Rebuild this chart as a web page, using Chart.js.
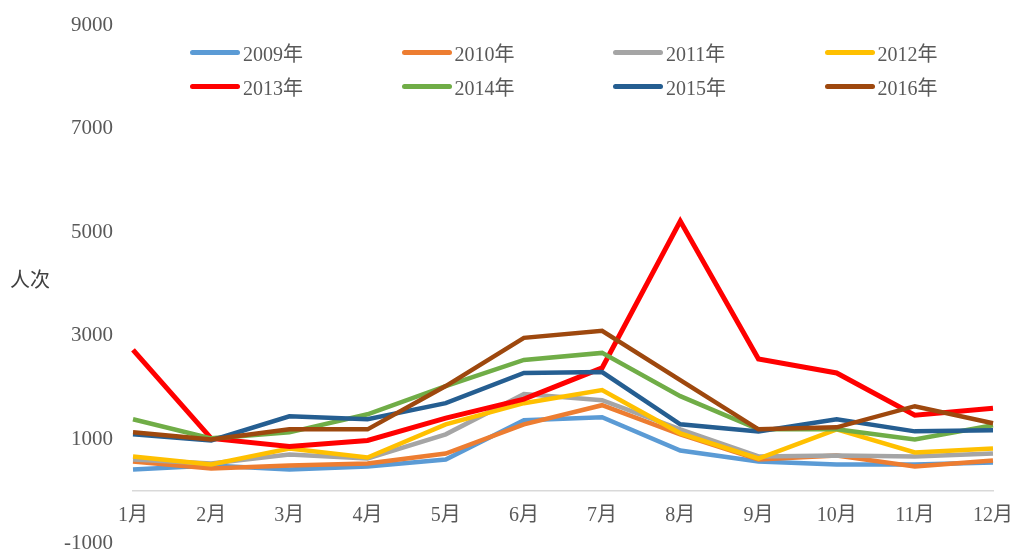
<!DOCTYPE html>
<html>
<head>
<meta charset="utf-8">
<title>人次</title>
<script src="https://cdn.jsdelivr.net/npm/chart.js@4.4.0/dist/chart.umd.min.js"></script>
<style>
    body { margin: 0; background: #fff; }
    #wrap { position: relative; width: 1018px; height: 550px; }
    #legend {
        position: absolute; left: 190px; top: 35px;
        display: grid; grid-template-columns: repeat(4, 211.5px); grid-auto-rows: 34px;
        font: 20px "Liberation Serif", "Noto Sans CJK SC", serif; color: #595959;
    }
    .item { display: flex; align-items: center; white-space: nowrap; }
    .swatch { width: 50px; height: 5px; border-radius: 3px; margin-right: 3px; }
    #unit {
        position: absolute; left: 10px; top: 264px;
        font: 20px "Liberation Serif", "Noto Sans CJK SC", serif; color: #404040;
    }
</style>
</head>
<body>
<div id="wrap">
    <canvas id="chart1" width="1018" height="550"></canvas>
    <div id="legend"></div>
    <div id="unit">人次</div>
</div>
<script>
// categories and tick labels
var months = ['1月', '2月', '3月', '4月', '5月', '6月', '7月', '8月', '9月', '10月', '11月', '12月'];
var yTicks = [-1000, 1000, 3000, 5000, 7000, 9000];

// visits per month, one array per year
var v2009 = [417, 495, 417, 476, 612, 1369, 1427, 786, 573, 515, 515, 553];
var v2010 = [573, 437, 495, 534, 728, 1291, 1660, 1097, 612, 690, 476, 592];
var v2011 = [612, 534, 709, 631, 1097, 1874, 1757, 1194, 670, 690, 670, 728];
var v2012 = [670, 515, 825, 650, 1291, 1699, 1951, 1117, 631, 1194, 748, 825];
var v2013 = [2730, 1020, 864, 980, 1410, 1777, 2380, 5214, 2553, 2282, 1466, 1602];
var v2014 = [1388, 1020, 1136, 1485, 2030, 2534, 2670, 1835, 1194, 1194, 1000, 1272];
var v2015 = [1097, 980, 1446, 1388, 1699, 2282, 2301, 1291, 1155, 1388, 1155, 1175];
var v2016 = [1136, 1000, 1194, 1194, 2030, 2961, 3097, 2146, 1194, 1233, 1641, 1311];

var years = ['2009年', '2010年', '2011年', '2012年', '2013年', '2014年', '2015年', '2016年'];
var colors = ['#5B9BD5', '#ED7D31', '#A5A5A5', '#FFC000', '#FF0000', '#70AD47', '#255E91', '#9E480E'];
var series = [v2009, v2010, v2011, v2012, v2013, v2014, v2015, v2016];

var serif = '"Liberation Serif", "Noto Sans CJK SC", serif';

var datasets = series.map(function (vals, i) {
    return {
        label: years[i],
        data: vals,
        borderColor: colors[i],
        backgroundColor: colors[i],
        borderWidth: i === 4 ? 5 : 4.5,
        pointRadius: 0,
        tension: 0,
        order: series.length - i // later years drawn on top, like Excel
    };
});

var ctx = document.getElementById('chart1').getContext('2d');
var chart1 = new Chart(ctx, {
    type: 'line',
    data: { labels: months, datasets: datasets },
    options: {
        responsive: false,
        animation: false,
        layout: { padding: { top: 25, right: 25, bottom: 7, left: 0 } },
        plugins: { legend: { display: false }, tooltip: { enabled: false } },
        scales: {
            x: {
                position: { y: 0 },
                offset: false,
                grid: { display: false, drawTicks: false },
                border: { display: true, color: '#D9D9D9', width: 1.5 },
                ticks: { color: '#595959', padding: 13, maxRotation: 0, font: { family: serif, size: 20 } },
                afterFit: function (scale) {
                    scale.height = 0;
                    scale.paddingLeft = 0;
                    scale.paddingRight = 0;
                }
            },
            y: {
                min: yTicks[0],
                max: yTicks[yTicks.length - 1],
                afterBuildTicks: function (scale) {
                    scale.ticks = yTicks.map(function (v) { return { value: v }; });
                },
                grid: { display: false, drawTicks: false },
                border: { display: false },
                ticks: {
                    color: '#595959', padding: 20, font: { family: serif, size: 21 },
                    callback: function (value) { return String(value); }
                },
                afterFit: function (scale) {
                    scale.width = 133;
                    scale.paddingTop = 0;
                    scale.paddingBottom = 0;
                }
            }
        }
    }
});

// html legend, 4 columns x 2 rows
var legendBox = document.getElementById('legend');
datasets.forEach(function (ds) {
    var item = document.createElement('div');
    item.className = 'item';
    var sw = document.createElement('span');
    sw.className = 'swatch';
    sw.style.background = ds.borderColor;
    var txt = document.createElement('span');
    txt.textContent = ds.label;
    item.appendChild(sw);
    item.appendChild(txt);
    legendBox.appendChild(item);
});
</script>
</body>
</html>
